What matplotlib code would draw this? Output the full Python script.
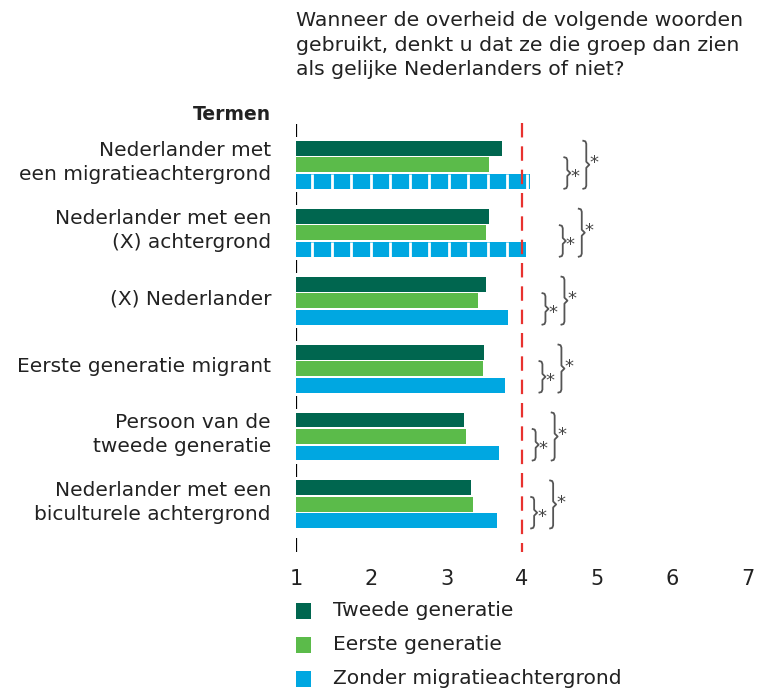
import matplotlib.pyplot as plt
from matplotlib.lines import Line2D
from matplotlib.patches import Rectangle
import matplotlib.transforms as mtransforms

plt.rcParams['font.family'] = ['DejaVu Sans']

categories = ['Nederlander met\neen migratieachtergrond',
              'Nederlander met een\n(X) achtergrond',
              '(X) Nederlander',
              'Eerste generatie migrant',
              'Persoon van de\ntweede generatie',
              'Nederlander met een\nbiculturele achtergrond']
tweede = [3.74, 3.56, 3.52, 3.49, 3.23, 3.32]
eerste = [3.56, 3.52, 3.41, 3.48, 3.25, 3.35]
zonder = [4.11, 4.05, 3.82, 3.78, 3.69, 3.67]
dashed_blue = [True, True, False, False, False, False]
series_names = ['Tweede generatie', 'Eerste generatie', 'Zonder migratieachtergrond']
colors = ['#00664f', '#5bbb4a', '#00a7e1']
xticks = [1, 2, 3, 4, 5, 6, 7]
reference = 4

W, H = 758, 689
fig = plt.figure(figsize=(W / 100, H / 100), dpi=100)
ax = fig.add_axes([296 / W, (H - 552) / H, 452 / W, 428 / H])
ax.set_xlim(1, 7)
ax.set_ylim(5.7, -0.6)

pxx = 6 / 452   # data units per pixel (x)
pxy = 6.3 / 428  # data units per pixel (y)

bh = 0.22
off = 0.243
txt = '#222222'
for i in range(len(categories)):
    for j, vals in enumerate([tweede, eerste, zonder]):
        y = i + (j - 1) * off
        ax.barh(y, vals[i] - 1, left=1, height=bh, color=colors[j], linewidth=0)
    if dashed_blue[i]:
        y = i + off
        xg = 1 + 0.216
        while xg < zonder[i]:
            ax.plot([xg, xg], [y - bh / 2, y + bh / 2], color='white', lw=2.0,
                    solid_capstyle='butt')
            xg += 0.259

# reference line
ax.plot([reference, reference], [-0.62, 5.7], color='#e8322f', lw=1.6,
        dashes=(6.5, 4), clip_on=False)

# axis segments
for b in [-0.5, 0.5, 1.5, 2.5, 3.5, 4.5]:
    ax.plot([1, 1], [b - 0.1, b + 0.09], color='black', lw=1.6, solid_capstyle='butt')
ax.plot([1, 1], [5.5, 5.7], color='black', lw=1.6, solid_capstyle='butt')


def brace(x0, t, b, color='#555555'):
    m = (t + b) / 2
    hx, hy = 3 * pxx, 3 * pxy
    xs = [x0 - hx, x0 - hx * 0.3, x0, x0, x0 + hx, x0, x0, x0 - hx * 0.3, x0 - hx]
    ys = [t, t + hy * 0.2, t + hy, m - hy, m, m + hy, b - hy, b - hy * 0.2, b]
    ax.add_line(Line2D(xs, ys, color=color, lw=1.3, solid_joinstyle='round'))


for i in range(len(categories)):
    mx = max(tweede[i], eerste[i], zonder[i])
    xs = mx + 37 * pxx
    xl = xs + 19 * pxx
    t_small, t_large, bot = i - bh / 2, i - off - bh / 2, i + off + bh / 2
    brace(xs, t_small, bot)
    brace(xl, t_large, bot)
    ax.text(xs + 3 * pxx, (t_small + bot) / 2 + 0.06, '*', fontsize=13, color='#444444',
            ha='left', va='center')
    ax.text(xl + 3 * pxx, (t_large + bot) / 2 - 0.02, '*', fontsize=13, color='#444444',
            ha='left', va='center')

ax.set_xticks(xticks)
ax.set_xticklabels([str(v) for v in xticks], fontsize=15, color=txt)
ax.tick_params(axis='x', length=0, pad=12)
ax.set_yticks([])
for s in ax.spines.values():
    s.set_visible(False)

trans = mtransforms.blended_transform_factory(fig.transFigure, ax.transData)
for i, c in enumerate(categories):
    ax.text(271 / W, i - 0.03, c, transform=trans, ha='right', va='center',
            fontsize=14.5, color=txt, linespacing=1.32)
fig.text(271 / W, 1 - 115 / H, 'Termen', ha='right', va='center', fontsize=13.5,
         fontweight='bold', color=txt)

fig.text(296 / W, 1 - 11 / H,
         'Wanneer de overheid de volgende woorden\ngebruikt, denkt u dat ze die groep dan zien\nals gelijke Nederlanders of niet?',
         ha='left', va='top', fontsize=14.7, color=txt, linespacing=1.38)

# legend
for k, (name, col) in enumerate(zip(series_names, colors)):
    yc = 611 + k * 34
    fig.patches.append(Rectangle((296 / W, 1 - (yc + 8) / H), 15 / W, 16 / H,
                                 transform=fig.transFigure, color=col, linewidth=0))
    fig.text(333 / W, 1 - yc / H, name, ha='left', va='center', fontsize=14.6, color=txt)

fig.savefig('out.png', dpi=100)
